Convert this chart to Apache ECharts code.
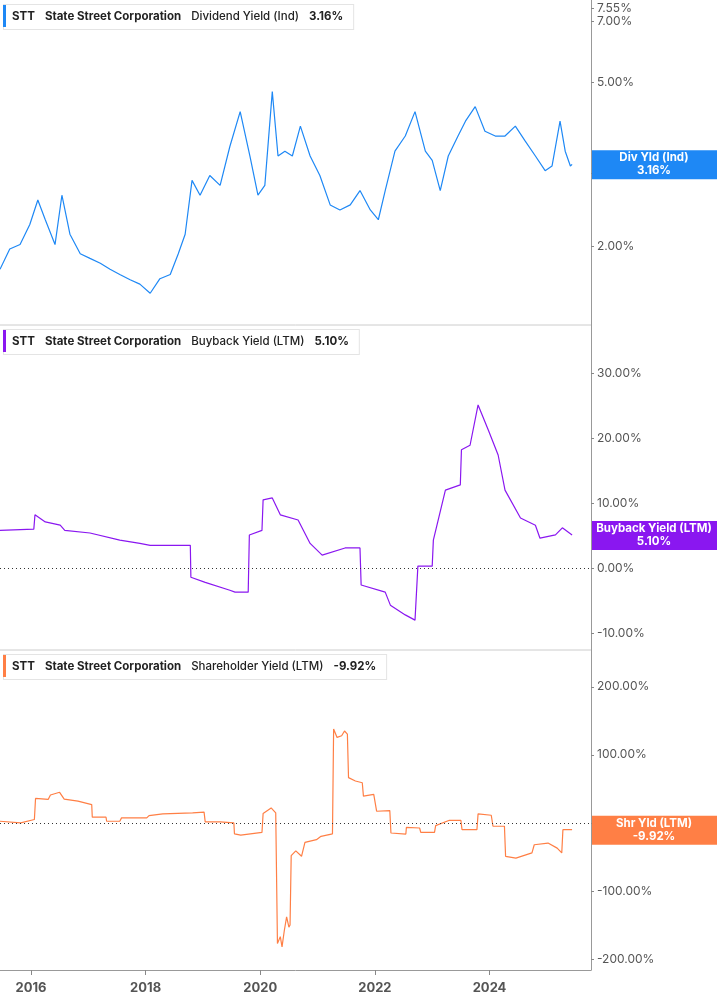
<!DOCTYPE html>
<html><head><meta charset="utf-8">
<script src="https://cdn.jsdelivr.net/npm/echarts@6/dist/echarts.min.js"></script>
<style>html,body{margin:0;padding:0;background:#fff}#c{width:717px;height:1005px}</style>
</head><body><div id="c"></div>
<script>
// dividend yield (%), log scale
const divDates = [2015.46,2015.63,2015.81,2015.98,2016.12,2016.25,2016.42,2016.54,2016.68,2016.86,2017.03,2017.21,2017.38,2017.55,2017.73,2017.90,2018.08,2018.25,2018.43,2018.57,2018.69,2018.81,2018.95,2019.12,2019.30,2019.47,2019.65,2019.82,2019.96,2020.08,2020.21,2020.31,2020.43,2020.56,2020.70,2020.87,2021.04,2021.22,2021.39,2021.57,2021.74,2021.92,2022.06,2022.18,2022.35,2022.53,2022.70,2022.88,2023.00,2023.14,2023.28,2023.45,2023.58,2023.75,2023.92,2024.10,2024.27,2024.45,2024.62,2024.80,2024.97,2025.09,2025.23,2025.32,2025.41,2025.44];
const divVals = [1.76,1.97,2.02,2.26,2.59,2.32,2.02,2.66,2.14,1.92,1.87,1.82,1.76,1.71,1.66,1.62,1.54,1.67,1.71,1.92,2.14,2.89,2.66,2.97,2.81,3.49,4.24,3.31,2.66,2.81,4.74,3.31,3.40,3.31,3.91,3.31,2.97,2.52,2.45,2.52,2.73,2.45,2.32,2.73,3.40,3.70,4.24,3.40,3.23,2.73,3.31,3.70,4.02,4.36,3.80,3.70,3.70,3.91,3.60,3.31,3.05,3.13,4.02,3.40,3.13,3.16];
// buyback yield (%)
const bbDates = [2015.46,2016.05,2016.07,2016.25,2016.51,2016.59,2017.03,2017.55,2017.90,2018.08,2018.78,2018.79,2019.04,2019.47,2019.56,2019.79,2019.81,2020.03,2020.05,2020.21,2020.35,2020.66,2020.87,2021.08,2021.48,2021.74,2021.76,2022.18,2022.27,2022.53,2022.70,2022.75,2023.00,2023.02,2023.23,2023.49,2023.51,2023.66,2023.80,2023.98,2024.15,2024.27,2024.54,2024.80,2024.88,2025.15,2025.27,2025.44];
const bbVals = [5.8,6.0,8.2,7.1,6.6,5.8,5.4,4.3,3.8,3.5,3.5,-1.4,-2.2,-3.4,-3.7,-3.7,5.1,5.8,10.5,10.8,8.2,7.4,3.8,2.0,3.1,3.1,-2.6,-3.7,-5.7,-7.2,-8.0,0.3,0.3,4.3,12.0,12.8,18.2,18.9,25.1,21.2,17.4,12.0,7.7,6.6,4.6,5.1,6.2,5.1];
// shareholder yield (%)
const shDates = [2015.46,2015.82,2016.06,2016.08,2016.30,2016.34,2016.50,2016.58,2016.82,2017.06,2017.07,2017.31,2017.32,2017.55,2017.58,2018.02,2018.06,2018.30,2018.82,2019.02,2019.04,2019.30,2019.31,2019.54,2019.55,2019.66,2020.03,2020.05,2020.19,2020.27,2020.30,2020.35,2020.38,2020.42,2020.46,2020.50,2020.52,2020.54,2020.62,2020.72,2020.78,2020.98,2021.06,2021.26,2021.28,2021.34,2021.42,2021.47,2021.52,2021.54,2021.66,2021.78,2021.80,2021.98,2022.03,2022.26,2022.28,2022.54,2022.55,2022.78,2022.80,2023.04,2023.06,2023.30,2023.50,2023.52,2023.78,2023.80,2024.03,2024.06,2024.26,2024.28,2024.46,2024.74,2024.78,2025.02,2025.18,2025.26,2025.28,2025.44];
const shVals = [2.5,0,5,36,34.5,41,45,35,32,27,8.4,8.4,2.5,2.5,7.4,7.4,10.8,13.3,14.8,15.8,1.5,1.5,0,0,-16,-18,-14,13.8,22,14.8,-177,-167,-182,-158,-138,-153,-150,-48,-41,-49,-28.6,-24.6,-19.7,-16,138,125.6,128,135,130.5,66.5,61.6,59,39.4,41.9,17.2,18.2,-14.8,-16.3,-6.4,-7.4,-13.8,-13.8,-3.9,3.9,3.9,-9.9,-9.9,13.3,11.3,-4.9,-4.9,-49,-51.7,-44,-32,-29.6,-37,-44,-9.9,-9.92];
const yearTicks = [2016,2018,2020,2022,2024];
const divTicks = [2,3,5,7,7.55];
const blue = '#1e88f5', purple = '#8a17f0', orange = '#ff7f45';

const pair = (d, v) => d.map((x, i) => [x, v[i]]);
const grids = [{top:0,height:325},{top:325,height:325},{top:650,height:320}].map(g => Object.assign({left:0,right:126,containLabel:false}, g));
const xAxes = grids.map((g, i) => ({
  type:'value', gridIndex:i, min:2015.46, max:2025.77,
  axisLine:{show:i===2,onZero:false,lineStyle:{color:'#999'}}, axisTick:{show:i===2,customValues:yearTicks,lineStyle:{color:'#888'}},
  splitLine:{show:false},
  axisLabel:{show:i===2,customValues:yearTicks,color:'#555',fontSize:13,fontWeight:'bold',fontFamily:'Inter',margin:12,formatter:v=>String(v)}
}));
const yBase = {position:'right',axisLine:{show:true,lineStyle:{color:'#999'}},axisTick:{show:true,length:3,inside:false,lineStyle:{color:'#888'}},splitLine:{show:false},
  axisLabel:{color:'#555',fontSize:12,fontFamily:'Inter',margin:6}};
const yAxes = [
  Object.assign({}, yBase, {type:'value',gridIndex:0,min:Math.log(1.29),max:Math.log(7.9),
    axisTick:Object.assign({},yBase.axisTick,{customValues:divTicks.map(Math.log)}),
    axisLabel:Object.assign({},yBase.axisLabel,{customValues:divTicks.map(Math.log),formatter:v=>Math.exp(v).toFixed(2)+'%'})}),
  Object.assign({}, yBase, {type:'value',gridIndex:1,min:-12.6,max:37.4,
    axisTick:Object.assign({},yBase.axisTick,{customValues:[-10,0,10,20,30]}),
    axisLabel:Object.assign({},yBase.axisLabel,{customValues:[-10,0,10,20,30],formatter:v=>v.toFixed(2)+'%'})}),
  Object.assign({}, yBase, {type:'value',gridIndex:2,min:-216,max:254,
    axisTick:Object.assign({},yBase.axisTick,{customValues:[-200,-100,0,100,200]}),
    axisLabel:Object.assign({},yBase.axisLabel,{customValues:[-200,-100,0,100,200],formatter:v=>v.toFixed(2)+'%'})})
];
const zeroLine = {silent:true,symbol:'none',label:{show:false},lineStyle:{color:'#333',type:[1,3],width:1},data:[{yAxis:0}]};
const series = [
  {type:'line',xAxisIndex:0,yAxisIndex:0,data:pair(divDates,divVals.map(Math.log)),color:blue},
  {type:'line',xAxisIndex:1,yAxisIndex:1,data:pair(bbDates,bbVals),color:purple,markLine:zeroLine},
  {type:'line',xAxisIndex:2,yAxisIndex:2,data:pair(shDates,shVals),color:orange,markLine:zeroLine}
].map(s => Object.assign({showSymbol:false,lineStyle:{width:1.2},animation:false}, s));

const chart = echarts.init(document.getElementById('c'));
chart.setOption({animation:false,grid:grids,xAxis:xAxes,yAxis:yAxes,series});

// legends, separators, right value boxes
const legends = [
  ['Dividend Yield (Ind)','3.16%',blue,0],
  ['Buyback Yield (LTM)','5.10%',purple,325],
  ['Shareholder Yield (LTM)','-9.92%',orange,650]
];
const graphics = [];
legends.forEach(([name,val,col,top]) => {
  graphics.push({type:'text',left:3,top:top+4,z:10,style:{
    text:'{b|STT}   {b|State Street Corporation}   {n|'+name+'}   {b|'+val+'}',
    rich:{b:{fontWeight:'bold',fontSize:11.5,fill:'#222',fontFamily:'Inter'},n:{fontSize:11.5,fill:'#222',fontWeight:500,fontFamily:'Inter'}},
    backgroundColor:'#fff',borderColor:'#e4e4e4',borderWidth:1,padding:[6,10,6,8]}});
  graphics.push({type:'rect',left:3,top:top+5,z:11,shape:{width:3,height:22},style:{fill:col}});
});
[325,650].forEach(y => graphics.push({type:'line',shape:{x1:0,y1:y,x2:591,y2:y},style:{stroke:'#ccc',lineWidth:1}}));
const boxes = [
  ['Div Yld (Ind)','3.16%',blue,0,Math.log(3.16)],
  ['Buyback Yield (LTM)','5.10%',purple,1,5.1],
  ['Shr Yld (LTM)','-9.92%',orange,2,-9.92]
];
boxes.forEach(([name,val,col,idx,v]) => {
  const p = chart.convertToPixel({xAxisIndex:idx,yAxisIndex:idx},[2025.77,v]);
  graphics.push({type:'rect',z:20,shape:{x:592,y:p[1]-14,width:125,height:29},style:{fill:col}});
  graphics.push({type:'text',z:21,x:654,y:p[1],style:{text:name+'\n'+val,fill:'#fff',fontSize:11.5,fontWeight:'bold',fontFamily:'Inter',align:'center',verticalAlign:'middle',lineHeight:13}});
});
chart.setOption({graphic:graphics});
</script></body></html>
